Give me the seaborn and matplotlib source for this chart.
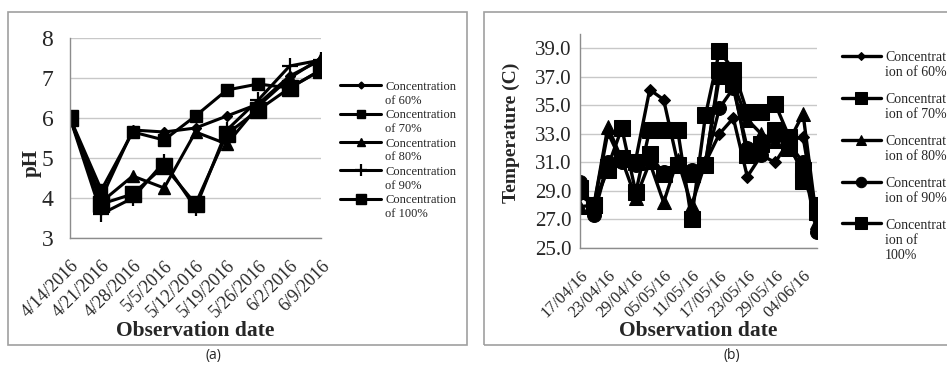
import numpy as np
import pandas as pd
import matplotlib
matplotlib.use('Agg')
import matplotlib.pyplot as plt
from matplotlib.patches import Rectangle
import seaborn as sns

# panel (a): pH per observation date
ph_dates = ['4/14/2016', '4/21/2016', '4/28/2016', '5/5/2016', '5/12/2016',
            '5/19/2016', '5/26/2016', '6/2/2016', '6/9/2016']
ph_60 = [6.0, 4.0, 5.7, 5.65, 5.75, 6.05, 6.35, 7.05, 7.45]
ph_70 = [6.0, 4.2, 5.65, 5.45, 6.05, 6.7, 6.85, 6.75, 7.2]
ph_80 = [6.0, 3.9, 4.55, 4.25, 5.65, 5.35, 6.3, 7.0, 7.5]
ph_90 = [6.0, 3.6, 4.0, 4.9, 3.75, 5.7, 6.45, 7.3, 7.45]
ph_100 = [6.0, 3.85, 4.1, 4.8, 3.85, 5.6, 6.2, 6.75, 7.2]

# panel (b): temperature, every 3 days
temp_dates = ['17/04/16', '20/04/16', '23/04/16', '26/04/16', '29/04/16', '02/05/16',
              '05/05/16', '08/05/16', '11/05/16', '14/05/16', '17/05/16', '20/05/16',
              '23/05/16', '26/05/16', '29/05/16', '01/06/16', '04/06/16', '07/06/16']
t_60 = [28.7, 28.0, 33.1, 31.0, 31.2, 36.1, 35.4, 31.0, 30.5, 31.0, 33.0, 34.1,
        30.0, 31.5, 31.0, 32.5, 32.8, 27.0]
t_70 = [29.0, 28.0, 30.7, 33.4, 28.9, 33.3, 33.3, 33.3, 27.0, 34.3, 38.8, 37.5,
        34.5, 34.5, 35.1, 32.8, 29.7, 28.0]
t_80 = [27.9, 28.0, 33.5, 31.2, 28.5, 31.0, 28.2, 31.2, 28.0, 31.0, 37.0, 36.5,
        34.0, 33.0, 32.5, 32.5, 34.4, 26.8]
t_90 = [29.6, 27.3, 31.0, 31.0, 30.8, 31.2, 30.3, 30.8, 30.5, 30.9, 34.8, 36.2,
        32.0, 31.5, 33.0, 32.3, 31.0, 26.1]
t_100 = [29.2, 28.0, 30.5, 31.3, 31.0, 31.6, 30.2, 30.8, 30.2, 30.8, 37.5, 36.5,
         31.5, 32.3, 33.3, 32.0, 30.5, 27.5]

sns.set_style("white")
plt.rcParams['font.family'] = ['Liberation Serif', 'DejaVu Serif']

W, H = 947, 373
fig = plt.figure(figsize=(W / 100, H / 100), dpi=100)


def px_axes(x0, x1, ytop, ybot):
    return fig.add_axes([x0 / W, 1 - ybot / H, (x1 - x0) / W, (ybot - ytop) / H])


def style_axes(ax):
    for s in ['top', 'right']:
        ax.spines[s].set_visible(False)
    for s in ['left', 'bottom']:
        ax.spines[s].set_color('#8c8c8c')
        ax.spines[s].set_linewidth(1.0)
    ax.yaxis.grid(True, color='#c8c8c8', lw=1.0)
    ax.xaxis.grid(False)
    ax.tick_params(axis='both', direction='out', length=4, width=1, color='#8c8c8c', pad=2)
    ax.tick_params(axis='x', pad=10)
    ax.set_axisbelow(True)


def fix_legend(leg, scale):
    # handle next to the first line of each label, smaller markers
    for col in leg._legend_handle_box.get_children():
        for item in col.get_children():
            item.align = 'top'
    for h in leg.legend_handles:
        h.set_markersize(h.get_markersize() * scale)


# frames around both panels
fig.patches.append(Rectangle((8 / W, 1 - 345 / H), 459 / W, 333 / H, transform=fig.transFigure,
                             fill=False, ec='#a0a0a0', lw=1.2))
fig.patches.append(Rectangle((484 / W, 1 - 345 / H), 480 / W, 333 / H, transform=fig.transFigure,
                             fill=False, ec='#a0a0a0', lw=1.2))

# ---- (a) pH ----
ax1 = px_axes(70, 321, 38, 238)
xa = np.arange(len(ph_dates))
series_a = [
    (ph_60, 'Concentration\nof 60%', 'D', 5, 1),
    (ph_70, 'Concentration\nof 70%', 's', 9, 1),
    (ph_80, 'Concentration\nof 80%', '^', 9, 1),
    (ph_90, 'Concentration\nof 90%', '+', 12, 1.6),
    (ph_100, 'Concentration\nof 100%', 's', 11, 1),
]
for vals, lab, mk, ms, mew in series_a:
    sns.lineplot(x=xa, y=vals, ax=ax1, color='black', lw=2.2, marker=mk, ms=ms,
                 mew=mew, mec='black', label=lab)
ax1.set_xlim(0, len(ph_dates) - 1)
ax1.set_ylim(3, 8)
ax1.set_yticks(range(3, 9))
ax1.set_xticks(xa)
ax1.set_xticklabels(ph_dates, rotation=45, ha='right', rotation_mode='anchor', fontsize=13)
style_axes(ax1)
ax1.tick_params(axis='y', labelsize=17, pad=8)
ax1.set_ylabel('pH', fontsize=15, fontweight='bold')
ax1.yaxis.set_label_coords(-0.112, 0.375)
ax1.set_xlabel('Observation date', fontsize=15.5, fontweight='bold', labelpad=0)
leg1 = ax1.legend(loc='upper left', bbox_to_anchor=(340 / W, 1 - 81 / H),
                  bbox_transform=fig.transFigure, frameon=False, fontsize=9,
                  handlelength=3.3, handletextpad=0.3, labelspacing=0.2,
                  borderaxespad=0, borderpad=0)
fix_legend(leg1, 0.7)

# ---- (b) temperature ----
ax2 = px_axes(580, 817, 34, 248)
xb = np.arange(len(temp_dates))
series_b = [
    (t_60, 'Concentrat\nion of 60%', 'D', 6),
    (t_70, 'Concentrat\nion of 70%', 's', 11),
    (t_80, 'Concentrat\nion of 80%', '^', 10),
    (t_90, 'Concentrat\nion of 90%', 'o', 10),
    (t_100, 'Concentrat\nion of\n100%', 's', 11),
]
for vals, lab, mk, ms in series_b:
    sns.lineplot(x=xb, y=vals, ax=ax2, color='black', lw=2.4, marker=mk, ms=ms,
                 mec='black', label=lab)
ax2.set_xlim(0, len(temp_dates) - 1)
ax2.set_ylim(25, 40)
ax2.set_yticks(np.arange(25, 40, 2.0))
ax2.set_yticklabels([f'{v:.1f}' for v in np.arange(25, 40, 2.0)], fontsize=15)
ax2.set_xticks(xb)
ax2.set_xticklabels([d if i % 2 == 0 else '' for i, d in enumerate(temp_dates)],
                    rotation=45, ha='right', rotation_mode='anchor', fontsize=12)
style_axes(ax2)
ax2.set_ylabel('Temperature (C)', fontsize=14, fontweight='bold')
ax2.yaxis.set_label_coords(-0.254, 0.54)
ax2.set_xlabel('Observation date', fontsize=15.5, fontweight='bold', labelpad=0)
leg2 = ax2.legend(loc='upper left', bbox_to_anchor=(842 / W, 1 - 51 / H),
                  bbox_transform=fig.transFigure, frameon=False, fontsize=10,
                  handlelength=2.8, handletextpad=0.3, labelspacing=1.0,
                  borderaxespad=0, borderpad=0)
fix_legend(leg2, 0.75)

fig.text(213 / W, 1 - 355 / H, '(a)', ha='center', va='center', fontsize=10, family='Open Sans')
fig.text(732 / W, 1 - 355 / H, '(b)', ha='center', va='center', fontsize=10, family='Open Sans')

fig.savefig('out.png', dpi=100)
